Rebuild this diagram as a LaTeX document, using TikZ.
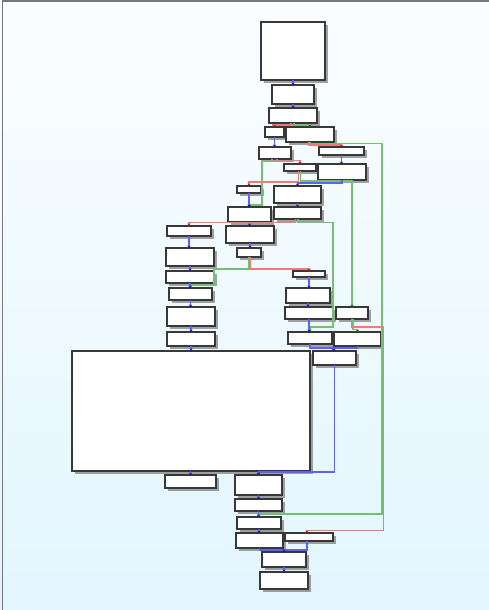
\documentclass[tikz,border=0pt]{standalone}
\usetikzlibrary{arrows.meta,shadows,fit}
\definecolor{bgtop}{RGB}{251,253,255}
\definecolor{bgbot}{RGB}{226,246,255}
\definecolor{framegray}{RGB}{120,120,120}
\definecolor{eRed}{RGB}{245,120,120}
\definecolor{eGreen}{RGB}{115,192,115}
\definecolor{eBlue}{RGB}{95,95,250}
\definecolor{tRed}{RGB}{215,20,20}
\definecolor{tGreen}{RGB}{20,110,20}
\definecolor{tBlue}{RGB}{20,20,200}
\tikzset{
  blk/.style={draw=black!78, line width=1.15pt, fill=white, inner sep=0pt, outer sep=0pt,
    drop shadow={shadow xshift=2.8pt, shadow yshift=-2.8pt, opacity=0.55, fill=black!65}},
  edge/.style={line width=1.75pt},
  redE/.style={edge, draw=eRed, -{Stealth[length=2.4pt,width=3pt,color=tRed]}},
  greenE/.style={edge, draw=eGreen, -{Stealth[length=2.4pt,width=3pt,color=tGreen]}},
  blueE/.style={edge, draw=eBlue, -{Stealth[length=2.4pt,width=3pt,color=tBlue]}}
}
\newcommand\blk[5]{\node[blk, fit={(#2,#3) (#4,#5)}] (#1) {};}
\begin{document}
\begin{tikzpicture}[x=1pt,y=-1pt]
\useasboundingbox (0,0) rectangle (489,610);
\shade[top color=bgtop, bottom color=bgbot] (0,0) rectangle (489,610);
\draw[framegray, line width=1.5pt] (2.6,610) -- (2.6,1.2) -- (489,1.2);

% blocks
\blk{A}{261}{22}{325}{80}
\blk{B}{272}{85}{314}{104}
\blk{C}{269}{108}{317}{123}
\blk{D}{265}{127}{284}{137}
\blk{E}{286}{127}{334}{142}
\blk{F}{259}{147}{291}{159}
\blk{G}{319}{147}{364}{155}
\blk{H}{284}{164}{316}{171}
\blk{I}{318}{164}{366}{180}
\blk{J}{237}{186}{261}{193}
\blk{K}{274}{186}{321}{203}
\blk{L}{228}{207}{271}{222}
\blk{M}{274}{207}{321}{219}
\blk{N}{167}{226}{211}{236}
\blk{O}{226}{226}{274}{243}
\blk{P}{237}{248}{261}{257}
\blk{Q}{166}{248}{214}{266}
\blk{R}{166}{271}{214}{283}
\blk{S}{293}{271}{325}{277}
\blk{T}{169}{288}{212}{300}
\blk{U}{286}{288}{330}{303}
\blk{V}{167}{307}{215}{326}
\blk{W}{285}{307}{333}{319}
\blk{X}{336}{307}{368}{319}
\blk{Y}{167}{332}{215}{346}
\blk{Z}{288}{332}{332}{344}
\blk{AA}{334}{332}{381}{346}
\blk{Big}{72}{351}{310}{471}
\blk{AB}{313}{351}{356}{365}
\blk{AC}{165}{475}{216}{488}
\blk{AD}{235}{475}{282}{495}
\blk{AE}{235}{499}{282}{511}
\blk{AF}{237}{517}{281}{529}
\blk{AG}{236}{533}{283}{548}
\blk{AH}{285}{533}{333}{541}
\blk{AI}{262}{552}{306}{567}
\blk{AJ}{260}{572}{308}{589}

% edges
\draw[blueE] (A.south) -- (B.north);
\draw[blueE] (B.south) -- (C.north);
\draw[redE] ([xshift=-2pt]C.south) -- ++(0,2) -| (D.north);
\draw[greenE] ([xshift=1pt]C.south) -- ++(0,2) -| (E.north);
\draw[blueE] (D.south) -- (D.south |- F.north);
\draw[redE] ([xshift=-1.5pt]E.south) -- ++(0,3.3) -| (G.north);
\draw[greenE] (E.south) -- ++(0,1.6) -| (381.7,514) -| (AF.north);
\draw[greenE] ([xshift=-3pt]F.south) -- ++(0,1.5) -| (262.3,205) -| (L.north);
\draw[redE] ([xshift=2pt]F.south) -- ++(0,1.5) -| (H.north);
\draw[blueE] (G.south) -- (G.south |- I.north);
\draw[redE] ([xshift=-1.5pt]H.south) -- ++(0,10.7) -| (J.north);
\draw[greenE] ([xshift=0.5pt]H.south) -- ++(0,10) -| (X.north);
\draw[blueE] (I.south) -- ++(0,2.7) -| (K.north);
\draw[blueE] (J.south) -- (J.south |- L.north);
\draw[blueE] (K.south) -- (M.north);
\draw[blueE] (L.south) -- (L.south |- O.north);
\draw[redE] ([xshift=-2pt]M.south) -- ++(0,3.4) -| (N.north);
\draw[greenE] ([xshift=0.5pt]M.south) -- ++(0,3.4) -| (333.3,327.3) -| (Z.north);
\draw[blueE] (N.south) -- (N.south |- Q.north);
\draw[blueE] (O.south) -- (O.south |- P.north);
\draw[greenE] ([xshift=-0.5pt]P.south) -- ++(0,12) -| (214.3,285) -| (T.north);
\draw[redE] ([xshift=1pt]P.south) -- ++(0,12) -| (S.north);
\draw[blueE] (Q.south) -- (Q.south |- R.north);
\draw[blueE] (R.south) -- (R.south |- T.north);
\draw[blueE] (S.south) -- (S.south |- U.north);
\draw[blueE] (T.south) -- (T.south |- V.north);
\draw[blueE] (U.south) -- (U.south |- W.north);
\draw[blueE] (V.south) -- (V.south |- Y.north);
\draw[blueE] (W.south) -- (W.south |- Z.north);
\draw[greenE] ([xshift=1pt]X.south) -- ++(0,10.5) -| (AA.north);
\draw[redE] ([xshift=-0.5pt]X.south) -- ++(0,8) -| (383.6,530.5) -| ([xshift=-2pt]AH.north);
\draw[blueE] (Y.south) -- (Y.south |- Big.north);
\draw[blueE] (Z.south) -- ++(0,4.3) -| ([xshift=-1pt]AB.north);
\draw[blueE] (AA.south) -- ++(0,2) -| ([xshift=-0.5pt]AB.north);
\draw[blueE] (AB.south) -- ++(0,107.3) -| (AD.north);
\draw[blueE] (Big.south -| AC.north) -- (AC.north);
\draw[blueE] (Big.south -| AD.north) -- (AD.north);
\draw[blueE] (AD.south) -- (AE.north);
\draw[blueE] (AE.south) -- (AE.south |- AF.north);
\draw[blueE] (AF.south) -- (AF.south |- AG.north);
\draw[blueE] (AG.south) -- ++(0,2) -| (AI.north);
\draw[blueE] ([xshift=-2pt]AH.south) -- ++(0,9) -| (AI.north);
\draw[blueE] (AI.south) -- (AJ.north);
\end{tikzpicture}
\end{document}
